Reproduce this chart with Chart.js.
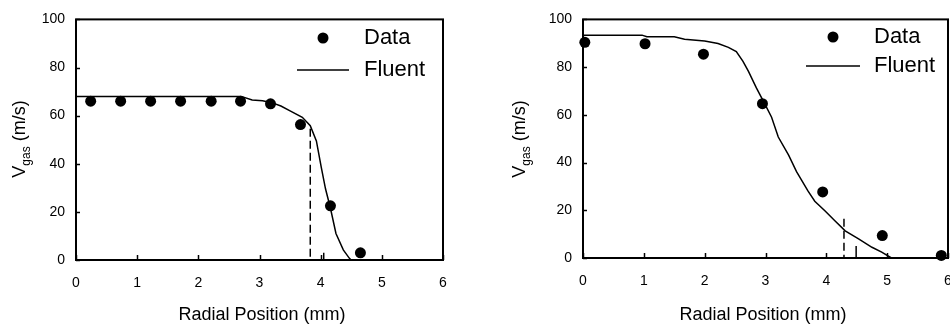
<!DOCTYPE html>
<html>
<head>
<meta charset="utf-8">
<script src="https://cdn.jsdelivr.net/npm/chart.js@4.4.1/dist/chart.umd.min.js"></script>
<style>
    html, body { margin: 0; padding: 0; background: #fff; overflow: hidden; width: 950px; height: 327px; }
    #boxEsq { position: absolute; left: 0; top: 0; }
    #boxDir { position: absolute; left: 475px; top: 0; }
</style>
</head>
<body>
<div id="boxEsq"><canvas id="chartEsq" width="475" height="327"></canvas></div>
<div id="boxDir"><canvas id="chartDir" width="500" height="327"></canvas></div>
<script>
// painel da esquerda
var esqDataX = [0.24, 0.73, 1.22, 1.71, 2.21, 2.69, 3.18, 3.67, 4.16, 4.65];
var esqDataY = [66, 66, 66, 66, 66, 66, 64.9, 56.3, 22.5, 3.0];
var esqFluentX = [0, 2.7, 2.88, 3.05, 3.2, 3.35, 3.5, 3.7, 3.83, 3.93, 4.01, 4.08, 4.16, 4.25, 4.37, 4.47, 4.5];
var esqFluentY = [68, 68, 66.5, 66.2, 65.4, 64, 62, 59.3, 55.8, 49.5, 38.5, 29.5, 21.5, 11, 4.2, 0.7, 0];
var esqTracoX = [3.83, 3.83];
var esqTracoY = [54.6, 0];
var esqMarcaX = [4.05, 4.05];
var esqMarcaY = [3, 0];

// painel da direita
var dirDataX = [0.03, 1.02, 1.98, 2.95, 3.94, 4.92, 5.89];
var dirDataY = [90.4, 89.8, 85.4, 64.7, 27.7, 9.4, 1.1];
var dirFluentX = [0, 0.97, 1.05, 1.5, 1.67, 2.0, 2.22, 2.39, 2.52, 2.63, 2.72, 2.85, 2.99, 3.1, 3.21, 3.38, 3.51, 3.7, 3.81, 3.98, 4.14, 4.31, 4.53, 4.75, 4.91, 5.07];
var dirFluentY = [93.4, 93.4, 92.7, 92.7, 91.7, 90.9, 89.9, 88.3, 86.5, 82.4, 78.2, 71.3, 64.5, 59, 50.7, 43.1, 36.2, 28, 23.8, 19.7, 15.6, 11.4, 8, 4.5, 2.5, 0];
var dirTracoX = [4.29, 4.29];
var dirTracoY = [16.4, 0];
var dirMarcaX = [4.49, 4.49];
var dirMarcaY = [5, 0];

// eixos
var xTicks = [0, 1, 2, 3, 4, 5, 6];
var yTicks = [0, 20, 40, 60, 80, 100];
var legendaLabels = ['Data', 'Fluent'];
var tituloX = 'Radial Position (mm)';

let GraficoClass = function ()
{
    var _self = this;
    var fonte = "'Liberation Sans', Arial, Helvetica, sans-serif";

    this.pontos = function (xs, ys)
    {
        return xs.map(function (x, i) {
            return {x: x, y: ys[i]};
        });
    }

    // moldura e marcas internas
    this.molduraPlugin = {
        id: 'moldura',
        beforeDatasetsDraw: function (chart)
        {
            var ctx = chart.ctx;
            var a = chart.chartArea;
            var sx = chart.scales.x, sy = chart.scales.y;
            ctx.save();
            ctx.strokeStyle = '#000';
            ctx.lineWidth = 1.5;
            xTicks.forEach(function (v) {
                var px = Math.round(sx.getPixelForValue(v)) + 0.5;
                ctx.beginPath();
                ctx.moveTo(px, a.bottom);
                ctx.lineTo(px, a.bottom - 5);
                ctx.stroke();
            });
            yTicks.forEach(function (v) {
                var py = Math.round(sy.getPixelForValue(v)) + 0.5;
                ctx.beginPath();
                ctx.moveTo(a.left, py);
                ctx.lineTo(a.left + 4, py);
                ctx.stroke();
            });
            ctx.lineWidth = 2;
            ctx.strokeRect(a.left, a.top, a.right - a.left, a.bottom - a.top);
            ctx.restore();
        }
    };

    // titulos e legenda
    this.textosPlugin = {
        id: 'textos',
        afterDraw: function (chart, args, opts)
        {
            var ctx = chart.ctx;
            ctx.save();
            ctx.fillStyle = '#000';

            // titulo do eixo x
            ctx.font = '18px ' + fonte;
            ctx.textAlign = 'center';
            ctx.textBaseline = 'alphabetic';
            ctx.fillText(tituloX, opts.tituloX.x, opts.tituloX.y);

            // titulo do eixo y com subscrito
            ctx.translate(opts.tituloY.x, opts.tituloY.y);
            ctx.rotate(-Math.PI / 2);
            ctx.textAlign = 'left';
            ctx.font = '18px ' + fonte;
            var wV = ctx.measureText('V').width;
            var wP = ctx.measureText(' (m/s)').width;
            ctx.font = '12px ' + fonte;
            var wG = ctx.measureText('gas').width;
            var x0 = -(wV + wG + wP) / 2;
            ctx.font = '18px ' + fonte;
            ctx.fillText('V', x0, 0);
            ctx.font = '12px ' + fonte;
            ctx.fillText('gas', x0 + wV, 5);
            ctx.font = '18px ' + fonte;
            ctx.fillText(' (m/s)', x0 + wV + wG, 0);
            ctx.setTransform(1, 0, 0, 1, 0, 0);

            // legenda
            var lg = opts.legenda;
            ctx.beginPath();
            ctx.arc(lg.ponto.x, lg.ponto.y, 5.5, 0, Math.PI * 2);
            ctx.fill();
            ctx.strokeStyle = '#000';
            ctx.lineWidth = 1.5;
            ctx.beginPath();
            ctx.moveTo(lg.linha.x1, lg.linha.y);
            ctx.lineTo(lg.linha.x2, lg.linha.y);
            ctx.stroke();
            ctx.font = '22px ' + fonte;
            ctx.textAlign = 'left';
            ctx.textBaseline = 'middle';
            ctx.fillText(legendaLabels[0], lg.textoX, lg.ponto.y);
            ctx.fillText(legendaLabels[1], lg.textoX, lg.linha.y);
            ctx.restore();
        }
    };

    this.bildChart = function (id, dados, fluent, traco, marca, layout, textos)
    {
        return new Chart(document.getElementById(id), {
            type: 'scatter',
            data: {
                datasets: [{
                        label: legendaLabels[0],
                        data: dados,
                        pointRadius: 5.5,
                        pointBackgroundColor: '#000',
                        pointBorderWidth: 0,
                        clip: false
                    }, {
                        label: legendaLabels[1],
                        data: fluent,
                        showLine: true,
                        borderColor: '#000',
                        borderWidth: 1.5,
                        pointRadius: 0
                    }, {
                        data: traco,
                        showLine: true,
                        borderColor: '#000',
                        borderWidth: 1.5,
                        borderDash: [8, 4],
                        pointRadius: 0
                    }, {
                        data: marca,
                        showLine: true,
                        borderColor: '#000',
                        borderWidth: 1.5,
                        pointRadius: 0
                    }]
            },
            options: {
                responsive: false,
                animation: false,
                events: [],
                layout: {
                    padding: layout.padding
                },
                scales: {
                    x: {
                        type: 'linear',
                        min: 0,
                        max: 6,
                        grid: {display: false, drawTicks: false},
                        border: {display: false},
                        afterFit: function (scale) {
                            scale.height = layout.xAltura;
                        },
                        afterBuildTicks: function (scale) {
                            scale.ticks = xTicks.map(function (v) { return {value: v}; });
                        },
                        ticks: {
                            padding: 15,
                            color: '#000',
                            font: {family: fonte, size: 14}
                        }
                    },
                    y: {
                        type: 'linear',
                        min: 0,
                        max: 100,
                        grid: {display: false, drawTicks: false},
                        border: {display: false},
                        afterFit: function (scale) {
                            scale.width = 36;
                        },
                        afterBuildTicks: function (scale) {
                            scale.ticks = yTicks.map(function (v) { return {value: v}; });
                        },
                        ticks: {
                            padding: 11,
                            color: '#000',
                            font: {family: fonte, size: 14}
                        }
                    }
                },
                plugins: {
                    legend: {display: false},
                    tooltip: {enabled: false},
                    textos: textos
                }
            },
            plugins: [_self.molduraPlugin, _self.textosPlugin]
        });
    }

    this.init = function ()
    {
        _self.bildChart('chartEsq',
            _self.pontos(esqDataX, esqDataY),
            _self.pontos(esqFluentX, esqFluentY),
            _self.pontos(esqTracoX, esqTracoY),
            _self.pontos(esqMarcaX, esqMarcaY),
            {padding: {left: 40, right: 32, top: 16, bottom: 0}, xAltura: 67},
            {
                tituloX: {x: 262, y: 320},
                tituloY: {x: 25, y: 139},
                legenda: {ponto: {x: 323, y: 38}, linha: {x1: 297, x2: 349, y: 70}, textoX: 364}
            });

        _self.bildChart('chartDir',
            _self.pontos(dirDataX, dirDataY),
            _self.pontos(dirFluentX, dirFluentY),
            _self.pontos(dirTracoX, dirTracoY),
            _self.pontos(dirMarcaX, dirMarcaY),
            {padding: {left: 72, right: 27, top: 16, bottom: 0}, xAltura: 69},
            {
                tituloX: {x: 288, y: 320},
                tituloY: {x: 50, y: 139},
                legenda: {ponto: {x: 358, y: 37}, linha: {x1: 331, x2: 385, y: 66}, textoX: 399}
            });
    }

    _self.init();
}

var Grafico = new GraficoClass();
</script>
</body>
</html>
